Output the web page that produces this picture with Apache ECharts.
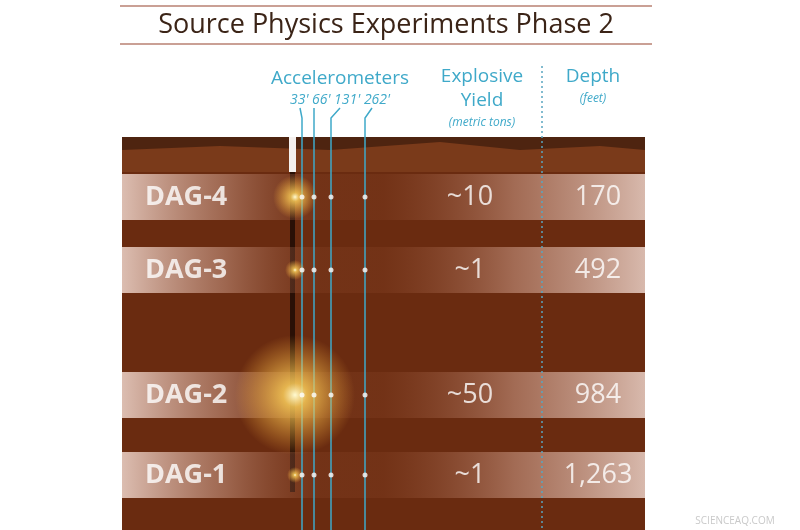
<!DOCTYPE html>
<html><head><meta charset="utf-8">
<script src="https://cdn.jsdelivr.net/npm/echarts@6/dist/echarts.min.js"></script>
<style>html,body{margin:0;background:#fff}#c{width:800px;height:530px}</style>
</head><body><div id="c"></div>
<script>
const dags = ['DAG-4','DAG-3','DAG-2','DAG-1'];
const yields = ['~10','~1','~50','~1'];
const depths = ['170','492','984','1,263'];
const accelFeet = ["33'","66'","131'","262'"];
const flashSize = [22, 10, 60, 8];
// layout (pixel frame)
const rowY = [197, 270, 395, 475];
const accelX = [302, 314, 331, 365];
const F = 'Open Sans, Noto Sans, sans-serif';

const chart = echarts.init(document.getElementById('c'));
const bands = rowY.map((y,i)=>[i,y]);
const dots = [];
rowY.forEach(y=>accelX.forEach(x=>dots.push([x,y])));
const blue = '#3fa9c9';

const graphics = [
  {type:'line',shape:{x1:120,y1:6,x2:652,y2:6},style:{stroke:'#b98072',lineWidth:1.5}},
  {type:'line',shape:{x1:120,y1:44,x2:652,y2:44},style:{stroke:'#b98072',lineWidth:1.5}},
  {type:'text',x:386,y:25,style:{text:'Source Physics Experiments Phase 2',fill:'#3b2417',font:'27px '+F,align:'center',verticalAlign:'middle'}},
  {type:'text',x:340,y:79,style:{text:'Accelerometers',fill:blue,font:'19px '+F,align:'center',verticalAlign:'middle'}},
  {type:'text',x:340,y:100,style:{text:accelFeet.join(' '),fill:blue,font:'italic 14px '+F,align:'center',verticalAlign:'middle'}},
  {type:'text',x:482,y:77,style:{text:'Explosive',fill:blue,font:'19px '+F,align:'center',verticalAlign:'middle'}},
  {type:'text',x:482,y:101,style:{text:'Yield',fill:blue,font:'19px '+F,align:'center',verticalAlign:'middle'}},
  {type:'text',x:482,y:123,style:{text:'(metric tons)',fill:blue,font:'italic 12px '+F,align:'center',verticalAlign:'middle'}},
  {type:'text',x:593,y:77,style:{text:'Depth',fill:blue,font:'19px '+F,align:'center',verticalAlign:'middle'}},
  {type:'text',x:593,y:99,style:{text:'(feet)',fill:blue,font:'italic 12px '+F,align:'center',verticalAlign:'middle'}},
  {type:'text',x:735,y:521,style:{text:'SCIENCEAQ.COM',fill:'#c9c9c9',font:'10px '+F,align:'center',verticalAlign:'middle'}}
];

chart.setOption({
  animation:false,
  grid:{left:0,right:0,top:0,bottom:0},
  xAxis:{type:'value',min:0,max:800,show:false},
  yAxis:{type:'value',min:0,max:530,inverse:true,show:false},
  graphic:graphics,
  series:[
    {type:'custom',z:1,silent:true,data:[[0]],renderItem:(p,api)=>{
      const a=api.coord([122,137]), b=api.coord([645,530]);
      return {type:'group',children:[
        {type:'rect',shape:{x:a[0],y:a[1],width:b[0]-a[0],height:b[1]-a[1]},style:{fill:'#6a2b10'}},
        {type:'polygon',shape:{points:[[a[0],a[1]],[b[0],a[1]],[b[0],172],[560,168],[470,160],[380,166],[300,162],[200,166],[a[0],160]]},style:{fill:'#4e2410'}},
        {type:'polygon',shape:{points:[[a[0],150],[220,146],[330,150],[440,142],[520,150],[600,146],[b[0],150],[b[0],172],[a[0],172]]},style:{fill:'#7a3a1a'}},
        {type:'rect',shape:{x:289,y:137,width:7,height:35},style:{fill:'#f4f0ee'}},
        {type:'rect',shape:{x:290,y:172,width:5,height:320},style:{fill:'#2a1006'}}
      ]};
    }},
    {type:'custom',z:2,silent:true,data:bands,renderItem:(p,api)=>{
      const y=api.coord([0,api.value(1)])[1];
      const a=api.coord([122,0])[0], b=api.coord([645,0])[0];
      return {type:'rect',shape:{x:a,y:y-23,width:b-a,height:46},style:{fill:new echarts.graphic.LinearGradient(0,0,1,0,[
        {offset:0,color:'rgba(240,215,205,0.85)'},{offset:0.2,color:'rgba(200,150,130,0.55)'},
        {offset:0.38,color:'rgba(150,80,50,0.2)'},{offset:0.5,color:'rgba(150,80,50,0.2)'},
        {offset:0.75,color:'rgba(200,150,130,0.6)'},{offset:1,color:'rgba(235,210,200,0.85)'}])}};
    }},
    {type:'custom',z:3,silent:true,data:[[0]],renderItem:(p,api)=>{
      const ch=[];
      const tops=[[300,108],[314,108],[340,108],[372,108]];
      accelX.forEach((x,i)=>{
        ch.push({type:'polyline',shape:{points:[[tops[i][0],tops[i][1]],[x,118],[x,530]]},style:{stroke:blue,lineWidth:1.5,fill:null}});
      });
      ch.push({type:'line',shape:{x1:542,y1:66,x2:542,y2:530},style:{stroke:'#5aa5c0',lineWidth:1.5,lineDash:[2,3]}});
      return {type:'group',children:ch};
    }},
    {type:'custom',z:4,silent:true,data:rowY.map((y,i)=>[295,y,flashSize[i]]),renderItem:(p,api)=>{
      const c=api.coord([api.value(0),api.value(1)]); const r=api.value(2);
      return {type:'circle',shape:{cx:c[0],cy:c[1],r:r},style:{fill:new echarts.graphic.RadialGradient(0.5,0.5,0.5,[
        {offset:0,color:'rgba(255,250,210,1)'},{offset:0.2,color:'rgba(255,210,90,0.8)'},{offset:1,color:'rgba(255,180,60,0)'}])}};
    }},
    {type:'scatter',z:5,symbolSize:5,itemStyle:{color:'#fff'},data:dots,silent:true},
    {type:'scatter',z:6,symbolSize:0,silent:true,data:rowY.map((y,i)=>({value:[145,y],name:dags[i]})),
      label:{show:true,position:'right',distance:0,formatter:p=>p.name,color:'#fff',fontSize:27,fontWeight:'bold',fontFamily:F}},
    {type:'scatter',z:6,symbolSize:0,silent:true,data:rowY.map((y,i)=>({value:[470,y],name:yields[i]})),
      label:{show:true,position:'inside',formatter:p=>p.name,color:'#fff',fontSize:27,fontFamily:F}},
    {type:'scatter',z:6,symbolSize:0,silent:true,data:rowY.map((y,i)=>({value:[598,y],name:depths[i]})),
      label:{show:true,position:'inside',formatter:p=>p.name,color:'#fff',fontSize:27,fontFamily:F}}
  ]
});
</script></body></html>
